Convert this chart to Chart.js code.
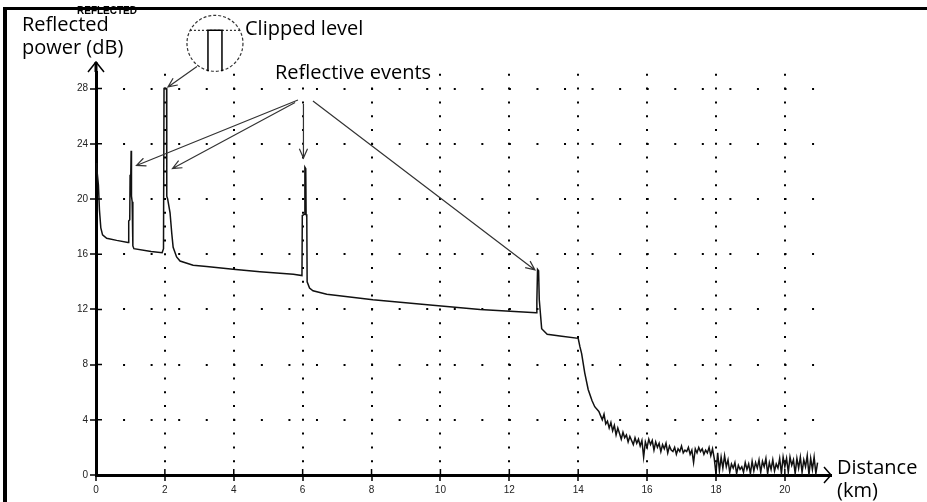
<!DOCTYPE html>
<html>
<head>
<meta charset="utf-8">
<script src="https://cdn.jsdelivr.net/npm/chart.js@4"></script>
<style>
  body { margin: 0; background: #fff; }
  #wrap { position: relative; width: 927px; height: 502px; }
  #frame { position: absolute; left: 3px; top: 7px; right: 0; bottom: 0;
           border-left: 4px solid #000; border-top: 3px solid #000; pointer-events: none; }
</style>
</head>
<body>
<div id="wrap">
  <canvas id="otdr" width="927" height="502"></canvas>
  <div id="frame"></div>
</div>
<script>
// OTDR trace: distance (km) vs reflected power (dB)
const traceKm = [0, 0.02, 0.07, 0.1, 0.14, 0.19, 0.31, 0.6, 0.93, 0.95, 0.98, 0.99, 1.01, 1.02, 1.03, 1.05,
  1.07, 1.1, 1.6, 1.92, 1.96, 1.975, 2.05, 2.055, 2.08, 2.15, 2.2, 2.24, 2.34, 2.44, 2.82, 3.21, 3.98,
  4.76, 5.73, 5.98, 5.99, 6.06, 6.065, 6.09, 6.1, 6.12, 6.13, 6.2, 6.3, 6.7, 8.04, 9.78, 11.15, 12.78,
  12.8, 12.82, 12.85, 12.87, 12.94, 13.1, 13.47, 14.0, 14.05, 14.1, 14.19, 14.29, 14.4, 14.48, 14.6];
const traceDb = [22.6, 22.3, 21.0, 19.2, 17.9, 17.4, 17.15, 17.0, 16.85, 18.4, 18.5, 21.7, 21.8, 23.5, 20.2, 19.8,
  16.6, 16.4, 16.2, 16.1, 16.4, 28, 28, 20.2, 20.0, 19.0, 17.5, 16.5, 15.8, 15.5, 15.2, 15.1, 14.9,
  14.73, 14.54, 14.45, 18.8, 18.9, 22.3, 22.2, 18.9, 18.7, 14.0, 13.55, 13.35, 13.1, 12.7, 12.3, 12.0, 11.75,
  12.6, 14.9, 14.8, 12.7, 10.6, 10.2, 10.07, 9.9, 9.3, 8.8, 7.4, 6.2, 5.4, 4.95, 4.6];

// noisy tail past the fibre end
const tailKm = [14.65, 14.7, 14.75, 14.8, 14.85, 14.9, 14.95, 15, 15.05, 15.1, 15.15, 15.2, 15.25, 15.3, 15.35,
  15.4, 15.45, 15.5, 15.55, 15.6, 15.65, 15.7, 15.75, 15.8, 15.85, 15.9, 15.95, 16, 16.05, 16.1, 16.15, 16.2,
  16.25, 16.3, 16.35, 16.4, 16.45, 16.5, 16.55, 16.6, 16.65, 16.7, 16.75, 16.8, 16.85, 16.9, 16.95, 17, 17.05,
  17.1, 17.15, 17.2, 17.25, 17.3, 17.35, 17.4, 17.45, 17.5, 17.55, 17.6, 17.65, 17.7, 17.75, 17.8, 17.85, 17.9,
  17.95, 18, 18.05, 18.1, 18.15, 18.2, 18.25, 18.3, 18.35, 18.4, 18.45, 18.5, 18.55, 18.6, 18.65, 18.7, 18.75,
  18.8, 18.85, 18.9, 18.95, 19, 19.05, 19.1, 19.15, 19.2, 19.25, 19.3, 19.35, 19.4, 19.45, 19.5, 19.55, 19.6,
  19.65, 19.7, 19.75, 19.8, 19.85, 19.9, 19.95, 20, 20.05, 20.1, 20.15, 20.2, 20.25, 20.3, 20.35, 20.4, 20.45,
  20.5, 20.55, 20.6, 20.65, 20.7, 20.75, 20.8, 20.85, 20.9, 20.95];
const tailDb = [4.3, 4.0, 4.4, 3.7, 3.9, 3.4, 3.8, 3.2, 3.6, 2.9, 3.4, 3.0, 2.6, 3.1, 2.7,
  2.9, 2.4, 2.8, 2.5, 2.2, 2.7, 2.3, 2.6, 2.1, 2.5, 1.3, 2.4, 2.0, 2.6, 2.2, 2.5, 1.8,
  2.4, 2.0, 2.3, 1.7, 2.2, 1.9, 2.3, 1.6, 2.1, 1.8, 1.7, 2.0, 1.5, 1.9, 1.7, 2.1, 1.6,
  1.8, 1.7, 2.0, 1.5, 1.8, 0.9, 1.9, 1.6, 2.0, 1.7, 1.9, 1.5, 1.8, 1.6, 2.0, 1.4, 1.9,
  1.2, 0.1, 1.6, 0.3, 1.3, 0.5, 1.4, 0.6, 1.1, 0.2, 0.8, 0.5, 0.9, 0.1, 0.7, 0.4, 0.6,
  0.2, 0.9, 0.4, 0.8, 0.1, 1.0, 0.3, 0.9, 0.5, 1.1, 0.2, 1.0, 0.6, 1.2, 0.1, 0.9, 0.4,
  1.1, 0.3, 0.8, 0.5, 1.2, 0.1, 1.3, 0.6, 1.2, 0.2, 1.3, 0.7, 1.1, 0.1, 1.2, 0.5, 1.3,
  0.2, 1.1, 0.6, 1.4, 0.0, 1.2, 0.4, 1.3, 0.1, 0.9];

const xTicks = [0, 2, 4, 6, 8, 10, 12, 14, 16, 18, 20];
const yTicks = [0, 4, 8, 12, 16, 20, 24, 28];

const points = traceKm.map((k, i) => ({ x: k, y: traceDb[i] }))
  .concat(tailKm.map((k, i) => ({ x: k, y: tailDb[i] })));

// callout arrows, in km / dB
const eventArrows = [
  [[5.864, 27.17], [1.176, 22.43]],
  [[5.78, 26.99], [2.221, 22.21]],
  [[6.023, 26.88], [6.023, 22.97]],
  [[6.299, 27.10], [12.743, 14.86]]
];
const clipArrow = [[2.932, 29.6], [2.09, 28.12]];
const clipInset = [3.454, 31.28];

function arrow(ctx, x0, y0, x1, y1) {
  const a = Math.atan2(y1 - y0, x1 - x0), h = 10, s = 0.42;
  ctx.beginPath();
  ctx.moveTo(x0, y0); ctx.lineTo(x1, y1);
  ctx.moveTo(x1 - h * Math.cos(a - s), y1 - h * Math.sin(a - s));
  ctx.lineTo(x1, y1);
  ctx.lineTo(x1 - h * Math.cos(a + s), y1 - h * Math.sin(a + s));
  ctx.stroke();
}

const annotate = {
  id: 'annotate',
  afterDraw(chart) {
    const { ctx, chartArea: ca, scales: { x, y } } = chart;
    const P = p => [x.getPixelForValue(p[0]), y.getPixelForValue(p[1])];
    ctx.save();
    ctx.strokeStyle = '#000';
    ctx.lineWidth = 1.5;

    // inner halves of the crossing ticks
    ctx.beginPath();
    yTicks.forEach(v => { const yy = y.getPixelForValue(v); ctx.moveTo(ca.left, yy); ctx.lineTo(ca.left + 6, yy); });
    xTicks.forEach(v => { const xx = x.getPixelForValue(v); ctx.moveTo(xx, ca.bottom); ctx.lineTo(xx, ca.bottom - 6); });
    ctx.stroke();

    // axis arrows
    ctx.lineWidth = 3;
    ctx.beginPath(); ctx.moveTo(ca.left, ca.top); ctx.lineTo(ca.left, ca.top - 10); ctx.stroke();
    ctx.lineWidth = 1.5;
    ctx.beginPath();
    ctx.moveTo(ca.left - 8, ca.top); ctx.lineTo(ca.left, ca.top - 10); ctx.lineTo(ca.left + 8, ca.top);
    ctx.moveTo(ca.right - 7, ca.bottom - 8); ctx.lineTo(ca.right, ca.bottom); ctx.lineTo(ca.right - 7, ca.bottom + 8);
    ctx.stroke();

    // callouts
    ctx.strokeStyle = '#333';
    ctx.lineWidth = 1.2;
    eventArrows.forEach(([a, b]) => { const p = P(a), q = P(b); arrow(ctx, p[0], p[1], q[0], q[1]); });
    const c0 = P(clipArrow[0]), c1 = P(clipArrow[1]);
    arrow(ctx, c0[0], c0[1], c1[0], c1[1]);

    // clipped-level inset
    const [cx, cy] = P(clipInset), r = 28;
    ctx.setLineDash([3, 2]);
    ctx.beginPath(); ctx.arc(cx, cy, r, 0, Math.PI * 2); ctx.stroke();
    ctx.setLineDash([2, 2]);
    ctx.beginPath(); ctx.moveTo(cx - r + 3, cy - 13); ctx.lineTo(cx + r - 3, cy - 13); ctx.stroke();
    ctx.setLineDash([]);
    ctx.strokeStyle = '#000';
    ctx.lineWidth = 1.5;
    ctx.beginPath();
    ctx.moveTo(cx - 7, cy + r); ctx.lineTo(cx - 7, cy - 13); ctx.lineTo(cx + 7, cy - 13); ctx.lineTo(cx + 7, cy + r);
    ctx.stroke();

    // texts
    ctx.fillStyle = '#000';
    ctx.textBaseline = 'alphabetic';
    ctx.font = 'bold 10px "Liberation Sans"';
    ctx.fillText('REFLECTED', 77, 14);
    ctx.font = '20px "Open Sans"';
    ctx.fillText('Reflected', 22, 31);
    ctx.fillText('power (dB)', 22, 54);
    ctx.fillText('Clipped level', 245, 35);
    ctx.fillText('Reflective events', 275, 79);
    ctx.fillText('Distance', ca.right + 6, ca.bottom - 1);
    ctx.fillText('(km)', ca.right + 6, ca.bottom + 22);
    ctx.restore();
  }
};

const dotColor = c => (c.tick && c.tick.value === 0) ? 'rgba(0,0,0,0)' : '#000';

new Chart(document.getElementById('otdr'), {
  type: 'line',
  data: {
    datasets: [{
      data: points,
      borderColor: '#111',
      borderWidth: 1.5,
      pointRadius: 0,
      tension: 0,
      fill: false
    }]
  },
  options: {
    responsive: false,
    animation: false,
    devicePixelRatio: 1,
    layout: { padding: { top: 72, right: 96, left: 0, bottom: 0 } },
    plugins: { legend: { display: false }, tooltip: { enabled: false } },
    scales: {
      x: {
        type: 'linear', min: 0, max: 21.34,
        afterFit: s => { s.height = 27; },
        afterBuildTicks: s => { s.ticks = xTicks.map(v => ({ value: v })); },
        ticks: { autoSkip: false, maxRotation: 0, padding: 3, color: '#222',
                 font: { family: 'Liberation Sans', size: 10 } },
        grid: { color: dotColor, lineWidth: 2, tickLength: 6, tickWidth: 1.5, tickColor: '#000' },
        border: { color: '#000', width: 3, dash: [2, 11.8], dashOffset: 12 }
      },
      y: {
        min: 0, max: 29.2,
        afterFit: s => { s.width = 96; },
        afterBuildTicks: s => { s.ticks = yTicks.map(v => ({ value: v })); },
        ticks: { autoSkip: false, padding: 2, color: '#222',
                 font: { family: 'Liberation Sans', size: 10 } },
        grid: { color: dotColor, lineWidth: 2, tickLength: 6, tickWidth: 1.5, tickColor: '#000' },
        border: { color: '#000', width: 3, dash: [2, 25.56], dashOffset: 2.5 }
      }
    }
  },
  plugins: [annotate]
});
</script>
</body>
</html>
